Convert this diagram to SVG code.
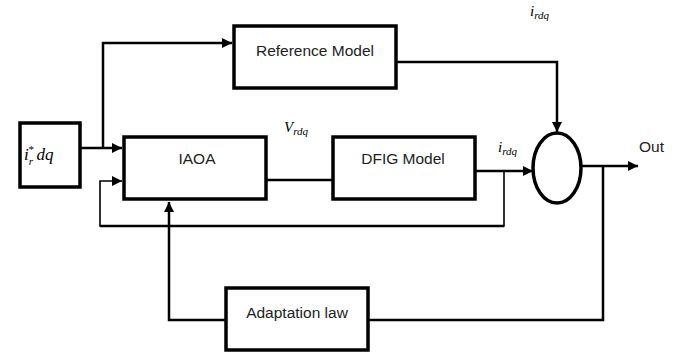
<svg xmlns="http://www.w3.org/2000/svg" width="696" height="354" viewBox="0 0 696 354">
<style>
.box{fill:#fff;stroke:#000;stroke-width:3.5}
.ln{fill:none;stroke:#000;stroke-width:2.5}
.thin{fill:none;stroke:#000;stroke-width:1.6}
.lbl{font-family:"Liberation Sans",Arial,sans-serif;font-size:15.5px;fill:#222}
.m{font-family:"Liberation Serif","DejaVu Serif",serif;font-style:italic;fill:#000}
</style>
<defs>
<marker id="ah" viewBox="0 0 10 10" refX="10" refY="5" markerWidth="10" markerHeight="10" markerUnits="userSpaceOnUse" orient="auto">
<path d="M0,0 L10,5 L0,10 Z" fill="#000"/>
</marker>
</defs>
<g id="connectors">
<path class="ln" d="M80,148 H122" marker-end="url(#ah)"/>
<path class="ln" d="M103,148 V43 H232" marker-end="url(#ah)"/>
<path class="thin" d="M504,172 V226 H100 V181 H122" marker-end="url(#ah)"/>
<path class="ln" d="M504,226 H100"/>
<path class="ln" d="M266,180 H333"/>
<path class="ln" d="M475,171 H533" marker-end="url(#ah)"/>
<path class="ln" d="M396,62 H557 V132" marker-end="url(#ah)"/>
<path class="ln" d="M582,166 H638" marker-end="url(#ah)"/>
<path class="ln" d="M603,166 V320 H368"/>
<path class="ln" d="M226,320 H169 V202" marker-end="url(#ah)"/>
</g>
<g id="input">
<rect class="box" x="20" y="123" width="60" height="64"/>
<text class="m" x="24" y="160" font-size="17">i<tspan font-size="11" dy="5">r</tspan><tspan font-size="11" dx="-5" dy="-12">*</tspan><tspan dy="7" dx="3">dq</tspan></text>
</g>
<g id="reference-model">
<rect class="box" x="234" y="26" width="162" height="62"/>
<text class="lbl" x="315" y="56" text-anchor="middle">Reference Model</text>
</g>
<g id="iaoa">
<rect class="box" x="124" y="137" width="142" height="62"/>
<text class="lbl" x="197" y="164" text-anchor="middle">IAOA</text>
</g>
<g id="dfig-model">
<rect class="box" x="333" y="137" width="142" height="62"/>
<text class="lbl" x="403" y="164" text-anchor="middle">DFIG Model</text>
</g>
<g id="sum">
<ellipse cx="557" cy="168" rx="24" ry="35" fill="#fff" stroke="#000" stroke-width="3.5"/>
</g>
<g id="adaptation-law">
<rect class="box" x="226" y="288" width="142" height="62"/>
<text class="lbl" x="297" y="318" text-anchor="middle">Adaptation law</text>
</g>
<g id="labels">
<text class="m" x="530" y="16" font-size="15">i<tspan font-size="11" dy="3">rdq</tspan></text>
<text class="m" x="284" y="132" font-size="15">V<tspan font-size="11" dy="3">rdq</tspan></text>
<text class="m" x="498" y="152" font-size="15">i<tspan font-size="11" dy="3">rdq</tspan></text>
<text class="lbl" x="639" y="152">Out</text>
</g>
</svg>
